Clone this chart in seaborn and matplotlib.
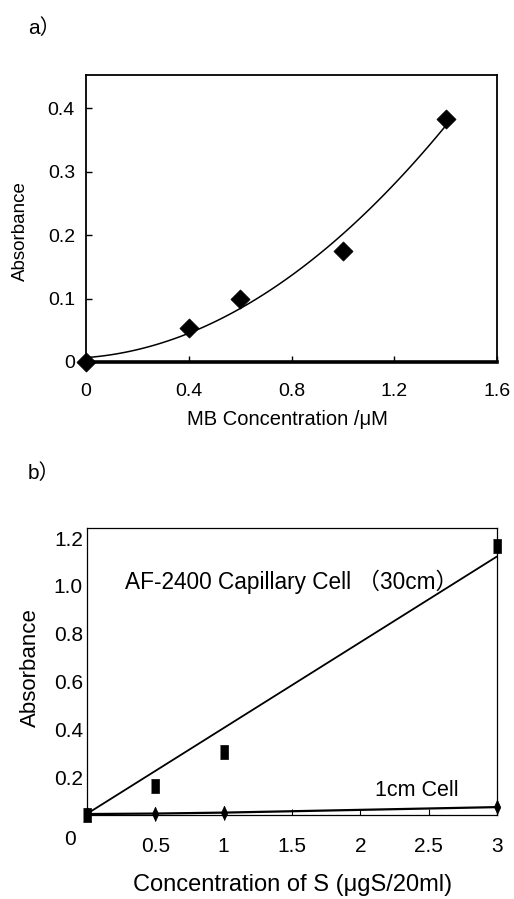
import numpy as np
import pandas as pd
import matplotlib
matplotlib.use("Agg")
import matplotlib.pyplot as plt
from matplotlib.transforms import ScaledTranslation
import seaborn as sns

# ---------------- data ----------------
# panel a : MB calibration
mb_conc = [0.0, 0.4, 0.6, 1.0, 1.4]
mb_abs = [0.0, 0.053, 0.100, 0.175, 0.382]
a_xticks = [0, 0.4, 0.8, 1.2, 1.6]
a_yticks = [0, 0.1, 0.2, 0.3, 0.4]

# panel b : sulfur calibration
s_conc = [0.0, 0.5, 1.0, 3.0]
cap_abs = [0.0, 0.123, 0.262, 1.123]      # AF-2400 capillary cell (30 cm)
cm1_abs = [0.004, 0.006, 0.010, 0.033]    # 1 cm cell
cap_fit_x = [0.0, 3.0]
cap_fit_y = [0.005, 1.081]
b_xticks = [0, 0.5, 1, 1.5, 2, 2.5, 3]
b_xticklabels = ["0", "0.5", "1", "1.5", "2", "2.5", "3"]
b_yticks = [0.2, 0.4, 0.6, 0.8, 1.0, 1.2]
b_yticklabels = ["0.2", "0.4", "0.6", "0.8", "1.0", "1.2"]

# ---------------- style ----------------
sns.set_style("ticks")
plt.rcParams["font.family"] = ["Liberation Sans", "Noto Sans CJK JP", "DejaVu Sans"]
plt.rcParams["axes.unicode_minus"] = False
for k in ["text.color", "axes.labelcolor", "xtick.color", "ytick.color", "axes.edgecolor"]:
    plt.rcParams[k] = "black"

W, H = 514, 899
fig = plt.figure(figsize=(W / 100, H / 100), dpi=100)


def px_axes(l, t, r, b):
    return fig.add_axes([l / W, 1 - b / H, (r - l) / W, (b - t) / H])


# ---------------- panel a ----------------
axa = px_axes(86, 75, 497, 362)
dfa = pd.DataFrame({"x": mb_conc, "y": mb_abs})
sns.regplot(data=dfa, x="x", y="y", order=2, ci=None, scatter=False,
            color="black", line_kws={"lw": 1.1}, ax=axa)
sns.scatterplot(data=dfa, x="x", y="y", marker="D", s=95, color="black",
                edgecolor="black", linewidth=0.5, zorder=5, clip_on=False, ax=axa)
axa.set_xlim(0, 1.6)
axa.set_ylim(0, 0.452)
axa.set_xticks(a_xticks)
axa.set_xticklabels(["0", "0.4", "0.8", "1.2", "1.6"])
axa.set_yticks(a_yticks)
axa.set_yticklabels(["0", "0.1", "0.2", "0.3", "0.4"])
axa.tick_params(axis="x", direction="in", length=4, width=1, pad=15, labelsize=14)
axa.tick_params(axis="y", direction="in", length=4, width=1, pad=8, labelsize=14)
for s in ["top", "right", "left"]:
    axa.spines[s].set_linewidth(1.3)
axa.spines["bottom"].set_linewidth(2.6)
axa.set_xlabel("MB Concentration /μM", fontsize=14.5, va="center")
axa.xaxis.set_label_coords(0.49, -0.202)
axa.set_ylabel("Absorbance", fontsize=13.5, va="center")
axa.yaxis.set_label_coords(-0.16, 0.456)
fig.text(28 / W, 1 - 28 / H, "a）", fontsize=15, ha="left", va="center")

# ---------------- panel b ----------------
axb = px_axes(87, 528, 497, 815)
dfb = pd.DataFrame({"x": s_conc, "cap": cap_abs, "cm1": cm1_abs})
dff = pd.DataFrame({"x": cap_fit_x, "y": cap_fit_y})
sns.lineplot(data=dff, x="x", y="y", color="black", lw=1.3, ax=axb)
sns.lineplot(data=dfb, x="x", y="cm1", color="black", lw=1.6, ax=axb)
rect = [(-0.3, -0.5), (0.3, -0.5), (0.3, 0.5), (-0.3, 0.5)]
thin_d = [(0, -1), (0.45, 0), (0, 1), (-0.45, 0)]
sns.scatterplot(data=dfb, x="x", y="cm1", marker=thin_d, s=110, color="black",
                edgecolor="black", linewidth=0.5, zorder=5, clip_on=False, ax=axb)
sns.scatterplot(data=dfb, x="x", y="cap", marker=rect, s=105, color="black",
                edgecolor="black", linewidth=0.5, zorder=6, clip_on=False, ax=axb)
axb.set_xlim(0, 3)
axb.set_ylim(0, 1.2)
axb.set_xticks(b_xticks)
axb.set_xticklabels(b_xticklabels)
axb.set_yticks(b_yticks)
axb.set_yticklabels(b_yticklabels)
axb.tick_params(axis="x", direction="in", length=4, width=0.8, pad=16, labelsize=15)
axb.tick_params(axis="y", direction="in", length=0, pad=3, labelsize=15)
for s in axb.spines.values():
    s.set_linewidth(0.9)
# tick labels of panel b sit slightly below their ticks in the original
for lab in axb.get_yticklabels():
    lab.set_transform(lab.get_transform() + ScaledTranslation(0, -10 / 100, fig.dpi_scale_trans))
xl = axb.get_xticklabels()
xl[0].set_transform(xl[0].get_transform() + ScaledTranslation(-17 / 100, 7 / 100, fig.dpi_scale_trans))
axb.set_xlabel("Concentration of S (μgS/20ml)", fontsize=17, va="center")
axb.xaxis.set_label_coords(0.502, -0.244)
axb.set_ylabel("Absorbance", fontsize=16, va="center")
axb.yaxis.set_label_coords(-0.139, 0.512)
axb.text(0.093, 0.812, "AF-2400 Capillary Cell （30cm）", transform=axb.transAxes,
         fontsize=16.3, ha="left", va="center")
axb.text(0.702, 0.087, "1cm Cell", transform=axb.transAxes,
         fontsize=15.5, ha="left", va="center")
fig.text(28 / W, 1 - 473 / H, "b）", fontsize=15, ha="left", va="center")

fig.savefig("out.png", dpi=100)
